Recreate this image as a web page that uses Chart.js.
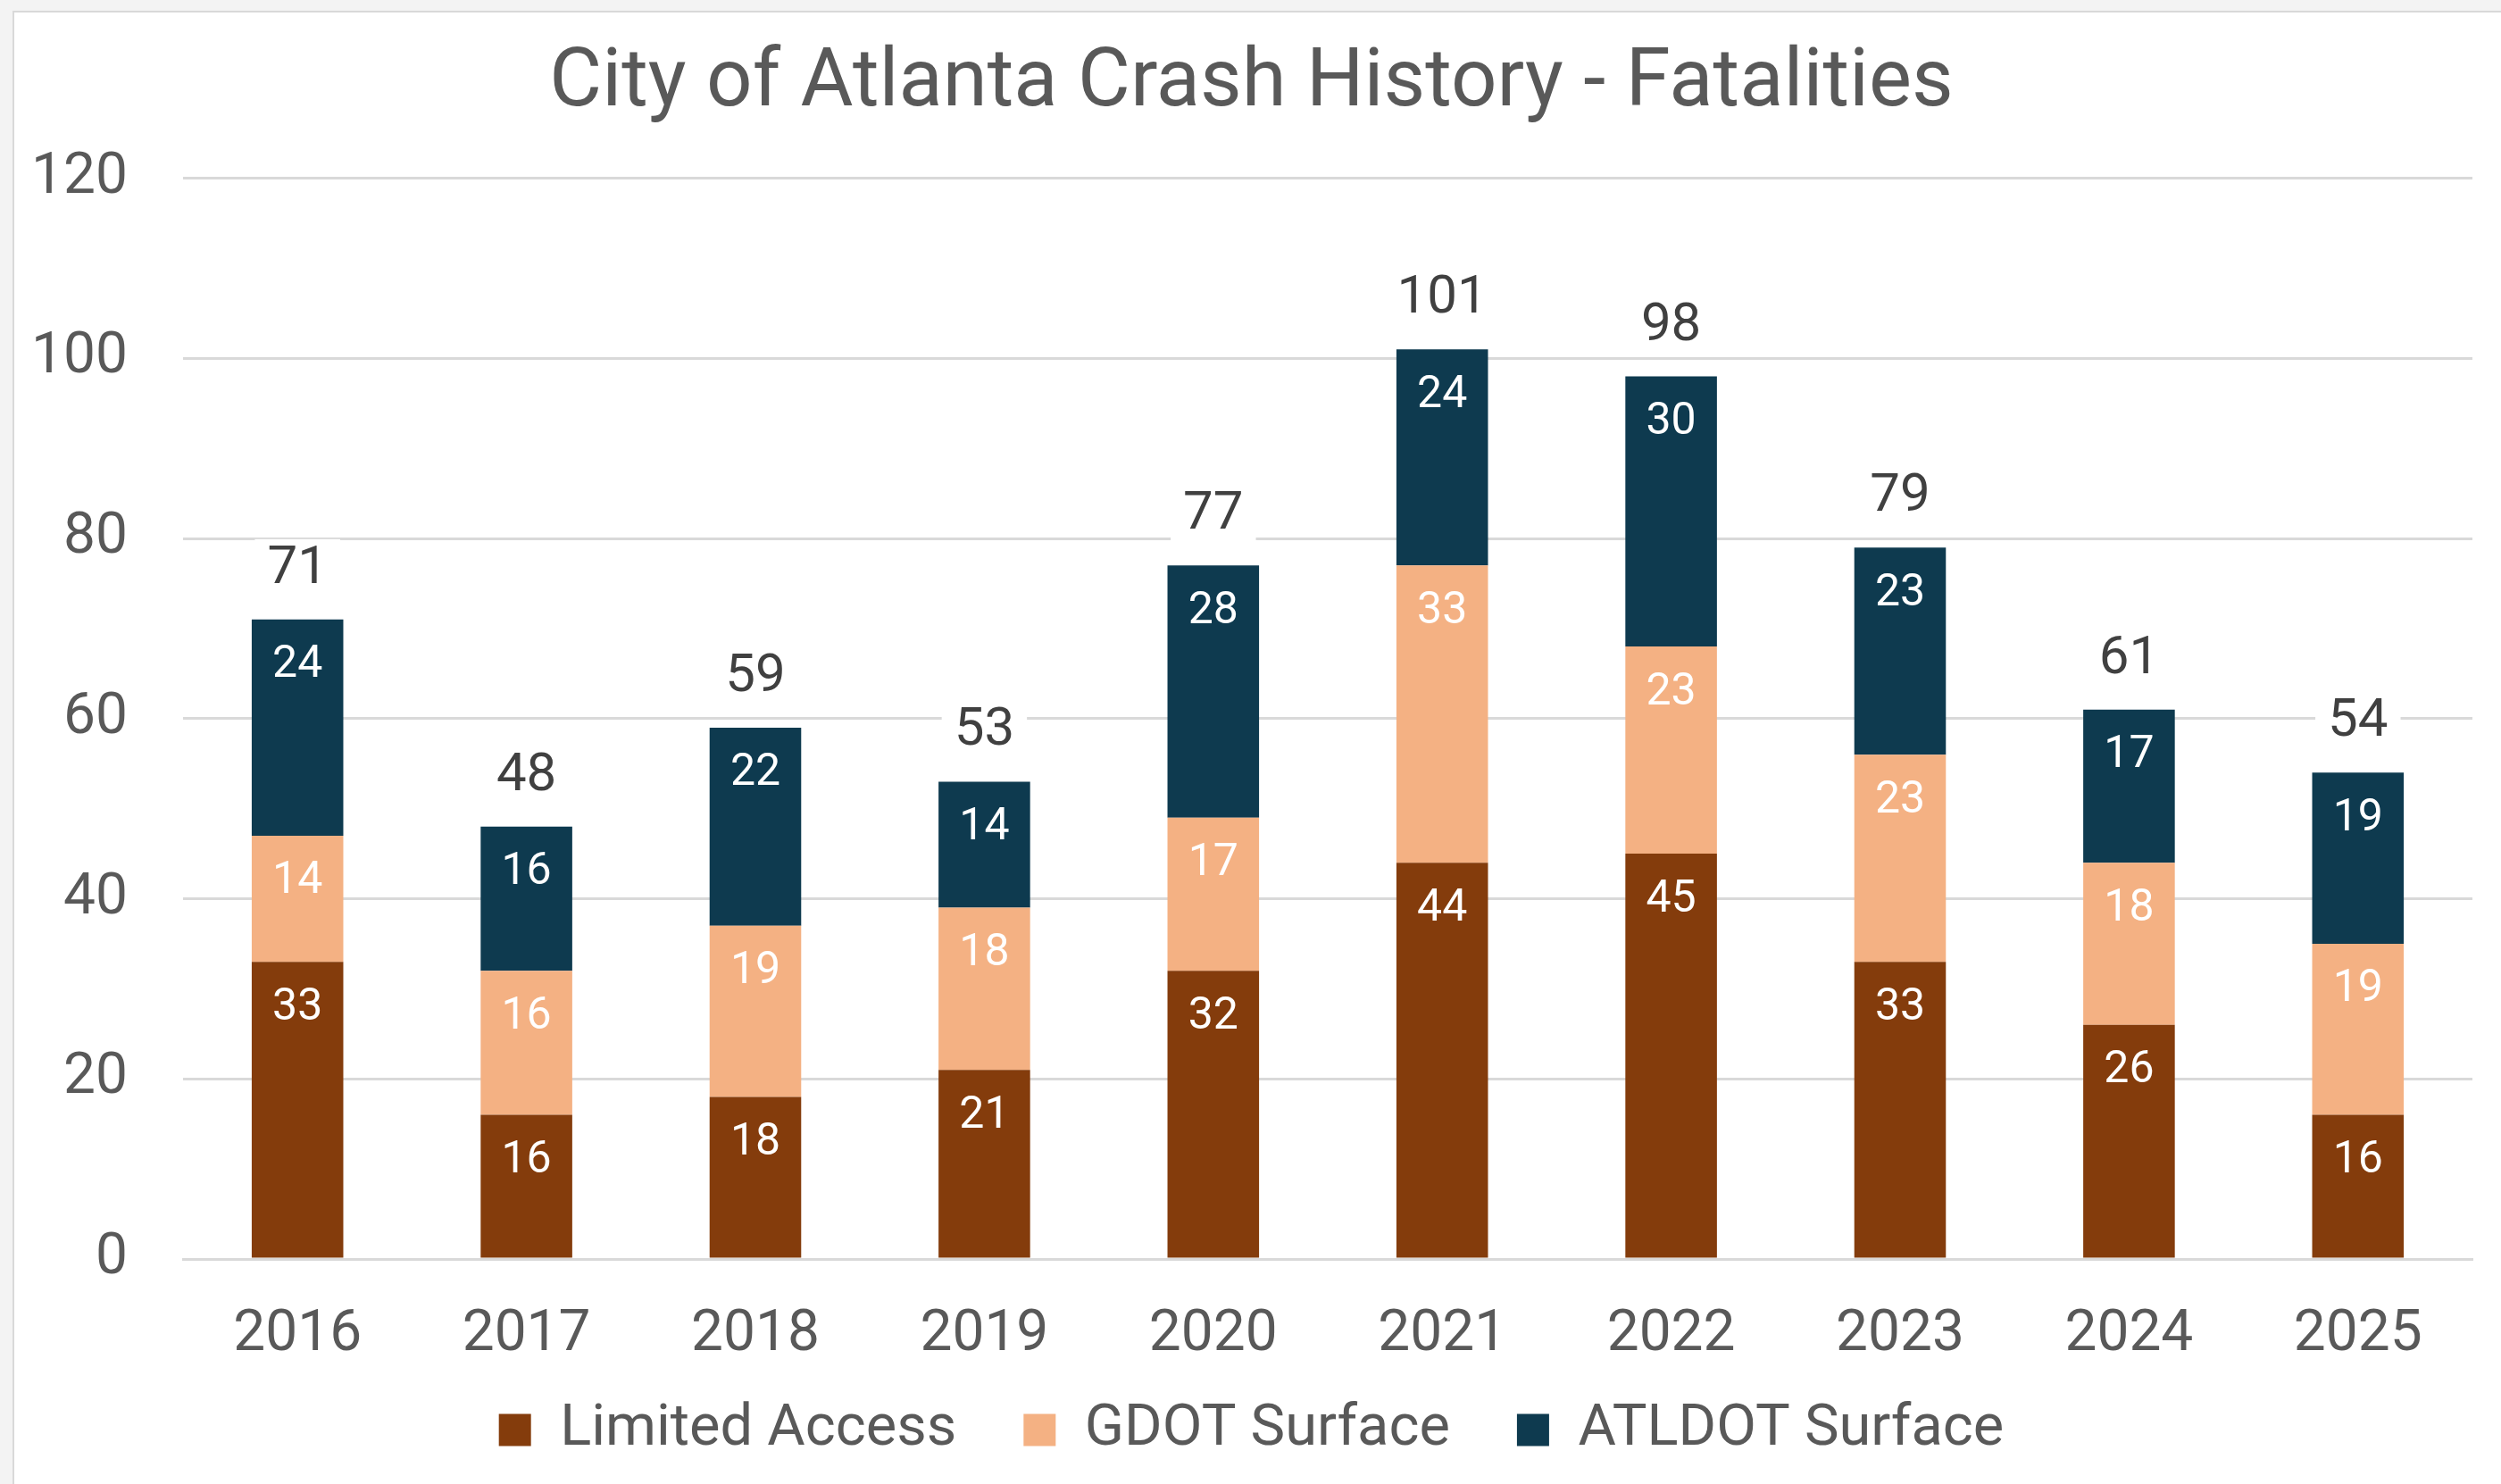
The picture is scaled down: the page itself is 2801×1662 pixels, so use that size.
<!DOCTYPE html>
<html>
<head>
<meta charset="utf-8">
<script src="https://cdn.jsdelivr.net/npm/chart.js@4.4.1/dist/chart.umd.min.js"></script>
<style>
  html, body { margin: 0; padding: 0; background: #f3f3f3; overflow: hidden; }
  .frame {
    position: absolute; left: 14px; top: 12px; width: 2800px; height: 1660px;
    background: #ffffff; border: 2px solid #d9d9d9;
  }
  canvas { position: absolute; left: 0; top: 0; }
</style>
</head>
<body>
<div class="frame"></div>
<canvas id="crash-chart" width="2801" height="1662"></canvas>
<script>
const years = ["2016", "2017", "2018", "2019", "2020", "2021", "2022", "2023", "2024", "2025"];
const limitedAccess = [33, 16, 18, 21, 32, 44, 45, 33, 26, 16];
const gdotSurface = [14, 16, 19, 18, 17, 33, 23, 23, 18, 19];
const atldotSurface = [24, 16, 22, 14, 28, 24, 30, 23, 17, 19];
const yTicks = [0, 20, 40, 60, 80, 100, 120];

const totals = years.map((y, i) => limitedAccess[i] + gdotSurface[i] + atldotSurface[i]);

// white numbers inside each segment + totals above each stack
const barLabels = {
  id: "barLabels",
  afterDatasetsDraw(chart) {
    const ctx = chart.ctx;
    ctx.save();
    ctx.textAlign = "center";
    ctx.textBaseline = "middle";
    ctx.font = "50px Roboto";
    ctx.fillStyle = "#ffffff";
    chart.data.datasets.forEach((ds, i) => {
      chart.getDatasetMeta(i).data.forEach((bar, j) => {
        ctx.fillText(ds.data[j], bar.x, bar.y + 52);
      });
    });

    const topMeta = chart.getDatasetMeta(chart.data.datasets.length - 1);
    ctx.font = "60px Roboto";
    topMeta.data.forEach((bar, j) => {
      const txt = String(totals[j]);
      const w = ctx.measureText(txt).width + 28;
      ctx.fillStyle = "#ffffff";
      ctx.fillRect(bar.x - w / 2, bar.y - 56 - 34, w, 62);
      ctx.fillStyle = "#404040";
      ctx.fillText(txt, bar.x, bar.y - 56);
    });
    ctx.restore();
  },
};

const ctx = document.getElementById("crash-chart").getContext("2d");

new Chart(ctx, {
  type: "bar",
  data: {
    labels: years,
    datasets: [
      {
        label: "Limited Access",
        data: limitedAccess,
        backgroundColor: "#843C0C",
        borderWidth: 0,
      },
      {
        label: "GDOT Surface",
        data: gdotSurface,
        backgroundColor: "#F4B183",
        borderWidth: 0,
      },
      {
        label: "ATLDOT Surface",
        data: atldotSurface,
        backgroundColor: "#0E3A4F",
        borderWidth: 0,
      },
    ],
  },
  options: {
    responsive: false,
    animation: false,
    devicePixelRatio: 1,
    layout: {
      padding: { top: 20, right: 32, bottom: 18, left: 34 },
    },
    datasets: {
      bar: {
        barPercentage: 0.4,
        categoryPercentage: 1,
      },
    },
    plugins: {
      title: {
        display: true,
        text: "City of Atlanta Crash History - Fatalities",
        color: "#595959",
        font: { family: "Roboto", size: 90.5, weight: "normal" },
        padding: { top: 21, bottom: 50 },
      },
      legend: {
        position: "bottom",
        maxHeight: 150,
        labels: {
          color: "#595959",
          font: { family: "Roboto", size: 65 },
          boxWidth: 36,
          boxHeight: 36,
          padding: 75,
        },
      },
      tooltip: { enabled: false },
    },
    scales: {
      x: {
        stacked: true,
        afterFit: (scale) => {
          scale.height = 84;
        },
        grid: { display: false, drawTicks: false },
        border: { display: true, color: "#d9d9d9", width: 3 },
        ticks: {
          // mirrored so the year labels are not clipped to the short axis box
          mirror: true,
          color: "#595959",
          padding: -124,
          font: { family: "Roboto", size: 64 },
        },
      },
      y: {
        stacked: true,
        min: 0,
        max: 120,
        afterFit: (scale) => {
          scale.width = 171;
        },
        afterBuildTicks: (scale) => {
          scale.ticks = yTicks.map((v) => ({ value: v }));
        },
        grid: { color: "#d9d9d9", lineWidth: 3, drawTicks: false },
        border: { display: false },
        ticks: {
          color: "#595959",
          padding: 62,
          font: { family: "Roboto", size: 64 },
        },
      },
    },
  },
  plugins: [barLabels],
});
</script>
</body>
</html>
